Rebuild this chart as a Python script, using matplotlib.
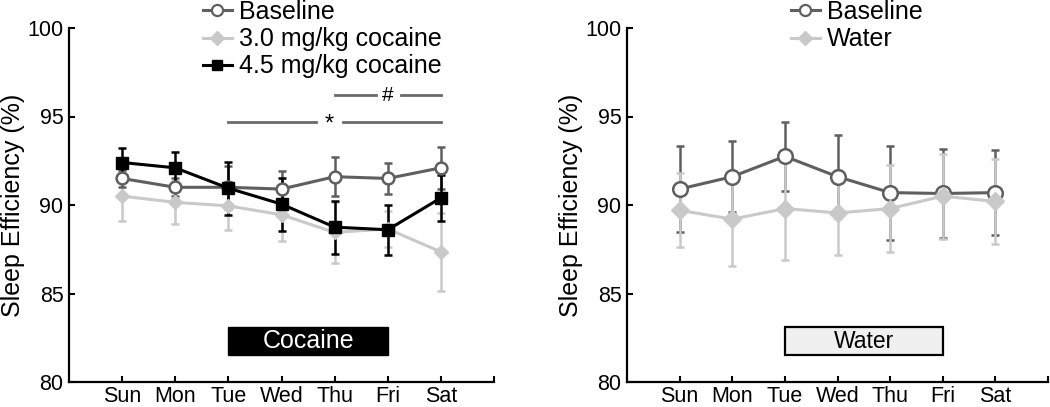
import matplotlib
matplotlib.use("Agg")
import matplotlib.pyplot as plt
from matplotlib.patches import Rectangle
from matplotlib.lines import Line2D

plt.rcParams['font.family'] = ['Liberation Sans', 'DejaVu Sans']

days = ['Sun', 'Mon', 'Tue', 'Wed', 'Thu', 'Fri', 'Sat']

# Left panel (cocaine)
base_L = [91.5, 91.0, 91.0, 90.9, 91.6, 91.5, 92.1]
base_L_se = [0.5, 0.5, 1.2, 1.0, 1.1, 0.9, 1.2]
coc30 = [90.5, 90.15, 89.95, 89.45, 88.45, 88.65, 87.35]
coc30_se = [1.4, 1.2, 1.35, 1.5, 1.7, 1.0, 2.2]
coc45 = [92.4, 92.1, 90.95, 90.05, 88.75, 88.6, 90.4]
coc45_se = [0.8, 0.9, 1.5, 1.5, 1.5, 1.4, 1.3]

# Right panel (water)
base_R = [90.9, 91.6, 92.75, 91.6, 90.7, 90.65, 90.7]
base_R_se = [2.45, 2.0, 1.95, 2.35, 2.65, 2.5, 2.4]
water = [89.7, 89.2, 89.8, 89.55, 89.8, 90.5, 90.2]
water_se = [2.1, 2.65, 2.9, 2.4, 2.45, 2.4, 2.4]

x = list(range(1, 8))

DARK = '#5f5f5f'
LIGHT = '#c9c9c9'

fig = plt.figure(figsize=(10.5, 4.07), dpi=100)
axL = fig.add_axes([69/1050, 1-382/407, (494-69)/1050, (382-28)/407])
axR = fig.add_axes([627/1050, 1-382/407, (1048-627)/1050, (382-28)/407])

def style(ax):
    ax.set_xlim(0, 8)
    ax.set_ylim(80, 100)
    ax.set_yticks([80, 85, 90, 95, 100])
    ax.set_xticks(list(range(1, 9)))
    ax.set_xticklabels(days + [''])
    for s in ['top', 'right']:
        ax.spines[s].set_visible(False)
    for s in ['left', 'bottom']:
        ax.spines[s].set_linewidth(1.6)
        ax.spines[s].set_color('black')
    ax.tick_params(direction='in', length=4, width=1.5, labelsize=15.5, pad=4)
    ax.tick_params(axis='x', pad=3)
    ax.set_ylabel('Sleep Efficiency (%)', fontsize=18, labelpad=2)

style(axL)
style(axR)

ekw = dict(capsize=2.6, capthick=1.8, elinewidth=1.8, lw=2.2)

# Left
axL.errorbar(x, coc30, yerr=coc30_se, color=LIGHT, ecolor=LIGHT, marker='D',
             ms=7.5, mfc=LIGHT, mec=LIGHT, **ekw)
axL.errorbar(x, base_L, yerr=base_L_se, color=DARK, ecolor=DARK, marker='o',
             ms=8.5, mfc='white', mec=DARK, mew=1.8, **ekw)
axL.errorbar(x, coc45, yerr=coc45_se, color='black', ecolor='black', marker='s',
             ms=8, mfc='black', mec='black', **ekw)

# significance bars
sig_c = '#6a6a6a'
axL.plot([5, 5.77], [96.2, 96.2], color=sig_c, lw=2)
axL.plot([6.25, 7], [96.2, 96.2], color=sig_c, lw=2)
axL.text(6.0, 96.2, '#', ha='center', va='center', fontsize=15, color='black')
axL.plot([3, 4.65], [94.7, 94.7], color=sig_c, lw=2)
axL.plot([5.15, 7], [94.7, 94.7], color=sig_c, lw=2)
axL.text(4.9, 94.55, '*', ha='center', va='center', fontsize=17, color='black')

axL.add_patch(Rectangle((3, 81.5), 3.0, 1.6, facecolor='black', edgecolor='black'))
axL.text(4.5, 82.3, 'Cocaine', ha='center', va='center', fontsize=18, color='white')

lb = Line2D([], [], color=DARK, lw=2.2, marker='o', ms=8, mfc='white', mec=DARK, mew=1.6)
l30 = Line2D([], [], color=LIGHT, lw=2.2, marker='D', ms=7, mfc=LIGHT, mec=LIGHT)
l45 = Line2D([], [], color='black', lw=2.2, marker='s', ms=7, mfc='black', mec='black')

fig.legend(handles=[lb, l30, l45], labels=['Baseline', '3.0 mg/kg cocaine', '4.5 mg/kg cocaine'],
           loc='upper left', bbox_to_anchor=(203/1050, 1.0), frameon=False, fontsize=18,
           handlelength=1.15, handletextpad=0.3, labelspacing=0.13, borderpad=0,
           borderaxespad=0, numpoints=1)

# Right
axR.errorbar(x, base_R, yerr=base_R_se, color=DARK, ecolor=DARK, marker='o',
             ms=10.5, mfc='white', mec=DARK, mew=1.8, **ekw)
axR.errorbar(x, water, yerr=water_se, color=LIGHT, ecolor=LIGHT, marker='D',
             ms=9, mfc=LIGHT, mec=LIGHT, **ekw)

axR.add_patch(Rectangle((3, 81.5), 3.0, 1.6, facecolor='#f0f0f0', edgecolor='black', lw=1.6))
axR.text(4.5, 82.3, 'Water', ha='center', va='center', fontsize=16.5, color='black')

lbR = Line2D([], [], color=DARK, lw=2.2, marker='o', ms=8, mfc='white', mec=DARK, mew=1.6)
lw_ = Line2D([], [], color=LIGHT, lw=2.2, marker='D', ms=7, mfc=LIGHT, mec=LIGHT)
fig.legend(handles=[lbR, lw_], labels=['Baseline', 'Water'],
           loc='upper left', bbox_to_anchor=(791/1050, 1.0), frameon=False, fontsize=18,
           handlelength=1.15, handletextpad=0.3, labelspacing=0.13, borderpad=0,
           borderaxespad=0, numpoints=1)

fig.savefig('out.png', dpi=100)
